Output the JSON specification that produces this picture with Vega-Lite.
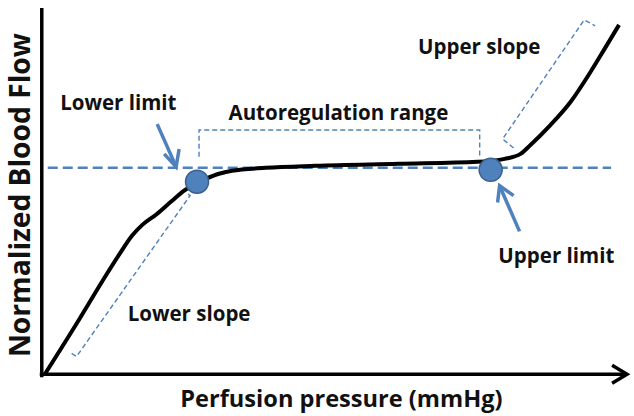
{
  "$schema": "https://vega.github.io/schema/vega-lite/v6.json",
  "width": 634,
  "height": 416,
  "autosize": {"type": "fit", "contains": "padding"},
  "padding": 0,
  "background": "white",
  "config": {"view": {"stroke": null}},
  "datasets": {
    "axes": [
      {"seg": "yaxis", "ord": 1, "x": 0, "y": 98.67},
      {"seg": "yaxis", "ord": 2, "x": 0, "y": -0.53},
      {"seg": "xaxis", "ord": 1, "x": -0.34, "y": 0.27},
      {"seg": "xaxis", "ord": 2, "x": 99.0, "y": 0.27},
      {"seg": "xhead", "ord": 1, "x": 96.79, "y": 2.67},
      {"seg": "xhead", "ord": 2, "x": 99.32, "y": 0.27},
      {"seg": "xhead", "ord": 3, "x": 96.79, "y": -2.13}
    ],
    "curve": [
      {"x": 0.51, "y": 0.27}, {"x": 6.42, "y": 15.2}, {"x": 10.30, "y": 25.33},
      {"x": 13.18, "y": 32.53}, {"x": 15.37, "y": 37.6}, {"x": 17.06, "y": 40.4},
      {"x": 19.43, "y": 43.2}, {"x": 21.96, "y": 46.67},
      {"x": 24.16, "y": 49.6}, {"x": 26.35, "y": 51.73},
      {"x": 27.87, "y": 52.8}, {"x": 30.07, "y": 54.13}, {"x": 32.26, "y": 54.93},
      {"x": 38.01, "y": 55.73}, {"x": 46.45, "y": 56.27}, {"x": 60.47, "y": 56.8},
      {"x": 73.99, "y": 57.33}, {"x": 78.55, "y": 58.13}, {"x": 81.25, "y": 59.47},
      {"x": 82.94, "y": 61.87}, {"x": 86.32, "y": 67.2}, {"x": 89.70, "y": 73.33},
      {"x": 93.07, "y": 81.33}, {"x": 95.44, "y": 87.47}, {"x": 97.97, "y": 94.13}
    ],
    "level": [
      {"x": 1.01, "y": 55.73}, {"x": 96.62, "y": 55.73}
    ],
    "brackets": [
      {"seg": "auto", "ord": 1, "x": 26.69, "y": 58.67},
      {"seg": "auto", "ord": 2, "x": 26.69, "y": 65.87},
      {"seg": "auto", "ord": 3, "x": 74.32, "y": 65.87},
      {"seg": "auto", "ord": 4, "x": 74.32, "y": 58.67},
      {"seg": "upper", "ord": 1, "x": 80.07, "y": 61.07},
      {"seg": "upper", "ord": 2, "x": 78.21, "y": 63.47},
      {"seg": "upper", "ord": 3, "x": 92.06, "y": 95.47},
      {"seg": "upper", "ord": 4, "x": 93.92, "y": 93.87},
      {"seg": "lower", "ord": 1, "x": 5.07, "y": 5.87},
      {"seg": "lower", "ord": 2, "x": 5.91, "y": 5.07},
      {"seg": "lower", "ord": 3, "x": 25.17, "y": 48.27},
      {"seg": "lower", "ord": 4, "x": 24.49, "y": 49.07}
    ],
    "arrows": [
      {"seg": "lowShaft", "ord": 1, "x": 19.59, "y": 67.47},
      {"seg": "lowShaft", "ord": 2, "x": 22.80, "y": 56.0},
      {"seg": "lowHead", "ord": 1, "x": 20.78, "y": 59.47},
      {"seg": "lowHead", "ord": 2, "x": 22.80, "y": 56.0},
      {"seg": "lowHead", "ord": 3, "x": 23.31, "y": 60.8},
      {"seg": "upShaft", "ord": 1, "x": 81.08, "y": 38.67},
      {"seg": "upShaft", "ord": 2, "x": 77.70, "y": 50.93},
      {"seg": "upHead", "ord": 1, "x": 77.36, "y": 46.4},
      {"seg": "upHead", "ord": 2, "x": 77.70, "y": 50.93},
      {"seg": "upHead", "ord": 3, "x": 80.07, "y": 48.27}
    ],
    "limits": [
      {"name": "Lower limit", "x": 26.35, "y": 52.0},
      {"name": "Upper limit", "x": 76.18, "y": 55.2}
    ],
    "labels": [
      {"label": "Lower limit", "x": 12.99, "y": 71.2},
      {"label": "Autoregulation range", "x": 50.34, "y": 68.53},
      {"label": "Upper slope", "x": 74.24, "y": 86.4},
      {"label": "Upper limit", "x": 87.33, "y": 30.13},
      {"label": "Lower slope", "x": 25.0, "y": 14.67}
    ],
    "xtitle": [{"label": "Perfusion pressure (mmHg)", "x": 50.85, "y": -8.53}],
    "ytitle": [{"label": "Normalized Blood Flow", "x": -1.95, "y": 48.4}]
  },
  "encoding": {
    "x": {"field": "x", "type": "quantitative", "axis": null,
          "scale": {"domain": [-7.09, 100], "nice": false, "zero": false}},
    "y": {"field": "y", "type": "quantitative", "axis": null,
          "scale": {"domain": [-10.93, 100], "nice": false, "zero": false}}
  },
  "layer": [
    {
      "data": {"name": "level"},
      "mark": {"type": "line", "color": "#4F81BD", "strokeWidth": 2.5, "strokeDash": [10, 5]},
      "encoding": {}
    },
    {
      "data": {"name": "brackets"},
      "mark": {"type": "line", "color": "#4F81BD", "strokeWidth": 1.4, "strokeDash": [5, 3]},
      "encoding": {"detail": {"field": "seg"}, "order": {"field": "ord", "type": "quantitative"}}
    },
    {
      "data": {"name": "curve"},
      "mark": {"type": "line", "color": "black", "strokeWidth": 4, "interpolate": "monotone"},
      "encoding": {}
    },
    {
      "data": {"name": "axes"},
      "mark": {"type": "line", "color": "black", "strokeWidth": 3.5, "strokeJoin": "miter"},
      "encoding": {"detail": {"field": "seg"}, "order": {"field": "ord", "type": "quantitative"}}
    },
    {
      "data": {"name": "arrows"},
      "mark": {"type": "line", "color": "#4F81BD", "strokeWidth": 3.5, "strokeJoin": "miter"},
      "encoding": {"detail": {"field": "seg"}, "order": {"field": "ord", "type": "quantitative"}}
    },
    {
      "data": {"name": "limits"},
      "mark": {"type": "point", "filled": true, "size": 530, "color": "#4F81BD", "opacity": 1,
               "stroke": "#3A5F8F", "strokeWidth": 1.5}
    },
    {
      "data": {"name": "labels"},
      "mark": {"type": "text", "font": "Open Sans", "fontWeight": "bold", "fontSize": 20.5,
               "align": "center", "baseline": "alphabetic", "color": "#111111"},
      "encoding": {"text": {"field": "label"}}
    },
    {
      "data": {"name": "xtitle"},
      "mark": {"type": "text", "font": "Open Sans", "fontWeight": "bold", "fontSize": 23.6,
               "align": "center", "baseline": "alphabetic", "color": "#111111"},
      "encoding": {"text": {"field": "label"}}
    },
    {
      "data": {"name": "ytitle"},
      "mark": {"type": "text", "font": "Open Sans", "fontWeight": "bold", "fontSize": 28.2, "angle": 270,
               "align": "center", "baseline": "alphabetic", "color": "#111111"},
      "encoding": {"text": {"field": "label"}}
    }
  ]
}
